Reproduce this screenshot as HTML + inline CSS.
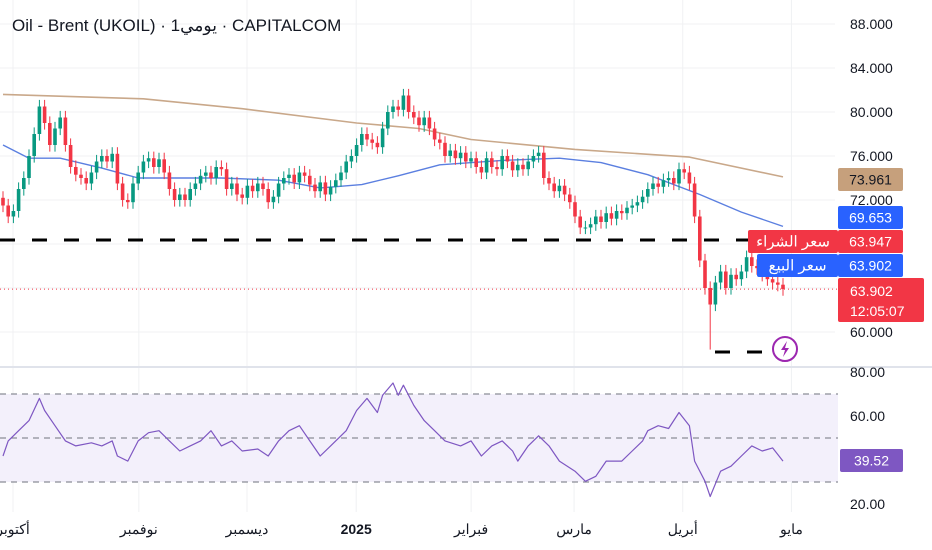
<!DOCTYPE html>
<html><head><meta charset="utf-8">
<style>
html,body{margin:0;padding:0;background:#fff;width:932px;height:550px;overflow:hidden}
svg{display:block;font-family:"Liberation Sans","Noto Sans CJK SC",sans-serif}
</style></head>
<body>
<svg id="chart" width="932" height="550"></svg>
<script>
// ===== data =====
const closes=[71.5,70.5,71,73,74,76,78,80.5,79,77,78.5,79.5,77,75,74.3,74,73.5,74.5,75.5,76,75.5,76.2,73.5,72,71.8,73.5,74.5,75.5,75.8,75,75.7,74.5,73,72,72.5,72,73,73.5,74.2,74.5,74,75,74.8,73,73.5,72.5,72.2,73.3,72.8,73.5,73,71.8,72.3,73.5,74,74.3,73.6,74.5,74.2,73.4,72.8,73.6,72.5,73.2,73.8,74.5,75.5,76,77,78,77.5,77.2,76.8,78.5,80,80.5,80.2,81.5,80,79.5,78.8,79.5,78.5,77.5,77.2,76,76.5,75.8,76.3,75.5,75.8,75,74.5,75.8,75,74.8,76,75.5,74.7,75.2,74.8,75.5,76,76.3,74,73.5,72.8,73.3,72.5,71.8,70.5,69.5,69.5,69.8,70.5,70,70.8,70.3,71,70.8,71.3,71.5,71.8,72.3,73,73.5,73.2,73.8,74,73.5,74.8,74.5,73.5,70.5,66.5,64,62.5,64.5,65.5,64,65.2,64.8,65.5,66.8,66,65.8,65.2,64.8,64.5,64.3,63.9];
const firstOpen=72.2;
const extremeLowDay=[136];
const extremeLowVal=[58.4];
const maSlowDay=[0,27,46,68,80,90,110,132,150];
const maSlowVal=[81.6,81.2,80.3,79,78.5,77.5,76.6,75.9,74.1];
const maFastDay=[0,5,11,19,26,34,42,53,61,69,76,84,96,107,115,124,134,142,150];
const maFastVal=[77,75.8,75.8,74.9,74,74,74,73.8,73.1,73.4,74.2,75.2,75.6,75.8,75.4,74.3,72.5,70.9,69.6];
const rsiDay=[0,1,3,5,7,8,10,12,14,17,19,21,22,24,26,28,30,32,34,36,38,40,42,44,46,49,51,53,55,57,59,61,63,66,68,70,72,73,75,76,77,79,81,83,85,88,90,92,94,96,98,99,101,103,105,107,110,112,114,116,119,121,123,124,126,128,130,132,133,135,136,138,140,142,144,146,148,150];
const rsiVal=[41.8,48.7,53.3,57.9,68,62.5,55.6,48.7,46.4,47.8,46.4,48.7,41.8,39.5,48.7,52.4,53.3,48.7,44.1,46.4,48.7,53.3,46.4,48.7,44.1,45,41.8,48.7,53.3,55.6,48.7,41.8,46.4,53.3,62.5,68,61.6,69.4,75,69.4,74,64.8,57.9,53.3,48.7,46.4,48.7,41.8,46.4,48.7,44.1,39.5,46.4,51,46.4,39.5,34.9,30.3,32.6,39.5,39.5,44.1,48.7,53.3,55.6,54.3,61.6,55.6,39.5,30.3,23.4,34.9,37.2,41.8,46.4,44.1,45.5,39.52];
const priceTicks=[88,84,80,76,72,60];
const rsiTicks=[80,60,20];
const monthLabels=["أكتوبر","نوفمبر","ديسمبر","2025","فبراير","مارس","أبريل","مايو"];
const monthDays=[2.5,26.7,47.5,68.5,90.6,110.4,131.3,152.2];

// ===== scales =====
const xDay=d=>3+d*5.2;
const yP=p=>24+(88-p)*11;
const yR=r=>372+(80-r)*2.2;
const NS="http://www.w3.org/2000/svg";
const svg=document.getElementById('chart');
function mk(tag,attrs,parent){const e=document.createElementNS(NS,tag);for(const k in attrs)e.setAttribute(k,attrs[k]);(parent||svg).appendChild(e);return e;}

// grid
const grid=mk('g',{});


monthDays.forEach(d=>{mk('line',{x1:xDay(d)-3,x2:xDay(d)-3,y1:0,y2:512,stroke:'#f0f1f3','stroke-width':1},grid);});
priceTicks.forEach(p=>{mk('line',{x1:0,x2:835,y1:yP(p),y2:yP(p),stroke:'#f0f1f3'},grid);});
[68,64].forEach(p=>{mk('line',{x1:0,x2:835,y1:yP(p),y2:yP(p),stroke:'#f0f1f3'},grid);});
mk('line',{x1:0,x2:932,y1:367,y2:367,stroke:'#e0e3eb','stroke-width':2},grid);

// title
const title=mk('text',{x:12,y:31,'font-size':17,fill:'#131722'});
title.textContent='Oil - Brent (UKOIL) · 1يومي · CAPITALCOM';



// MAs
function lineFrom(days,vals,ys,color,name,w){
  const d=days.map((dd,i)=>(i?'L':'M')+xDay(dd).toFixed(1)+','+ys(vals[i]).toFixed(1)).join(' ');
  const p=mk('path',{d:d,fill:'none',stroke:color,'stroke-width':w||1.5,'stroke-linejoin':'round'});
  
  
  return p;
}
lineFrom(maSlowDay,maSlowVal,yP,'#c9a88a','ma-slow-line',1.6);
lineFrom(maFastDay,maFastVal,yP,'#5b7fe0','ma-fast-line',1.4);

// levels
const lvl1=mk('line',{x1:0,x2:760,y1:240,y2:240,stroke:'#000','stroke-width':3,'stroke-dasharray':'15,17'});


const lvl2=mk('line',{x1:715,x2:800,y1:352,y2:352,stroke:'#000','stroke-width':3,'stroke-dasharray':'15,17'});


const cur=mk('line',{x1:0,x2:838,y1:yP(63.902),y2:yP(63.902),stroke:'#f23645','stroke-width':1,'stroke-dasharray':'1,3'});



// candles
const cg=mk('g',{});


closes.forEach((c,i)=>{
  const o=i?closes[i-1]:firstOpen;
  const up=c>=o;
  const col=up?'#089981':'#f23645';
  const x=xDay(i);
  let hi=Math.max(o,c)+0.6, lo=Math.min(o,c)-0.6;
  const k=extremeLowDay.indexOf(i); if(k>=0) lo=extremeLowVal[k];
  const g=mk('g',{},cg);
  
  
  mk('line',{x1:x,x2:x,y1:yP(hi),y2:yP(lo),stroke:col,'stroke-width':1},g);
  const t=yP(Math.max(o,c)),b=yP(Math.min(o,c));
  mk('rect',{x:x-1.8,y:t,width:3.6,height:Math.max(1,b-t),fill:col},g);
});

// lightning icon
const lg=mk('g',{});


mk('circle',{cx:785,cy:349,r:12,fill:'#fff',stroke:'#9c27b0','stroke-width':2},lg);
mk('path',{d:'M787,341 L781,350 L785,350 L783,357 L789,348 L785,348 Z',fill:'#9c27b0'},lg);

// price axis labels
priceTicks.forEach(p=>{
  const t=mk('text',{x:850,y:yP(p)+5,'font-size':14,fill:'#131722'});
  t.textContent=p.toFixed(3);
  
  
});
function tag(x,y,w,h,bg,fg,txt,name,fs){
  const g=mk('g',{});
  
  
  mk('rect',{x:x,y:y,width:w,height:h,rx:2,fill:bg},g);
  const t=mk('text',{x:x+w/2,y:y+h/2+5,'font-size':fs||14,fill:fg,'text-anchor':'middle'},g);
  t.textContent=txt;
  return g;
}
tag(838,168,65,23,'#c6a07c','#131722','73.961','ma-slow-value-tag');
tag(838,206,65,23,'#2962ff','#fff','69.653','ma-fast-value-tag');
tag(748,230,90,23,'#f23645','#fff','سعر الشراء','buy-price-label',15);
tag(838,230,65,23,'#f23645','#fff','63.947','buy-price-tag');
tag(757,254,81,23,'#2962ff','#fff','سعر البيع','sell-price-label',15);
tag(838,254,65,23,'#2962ff','#fff','63.902','sell-price-tag');
const lp=mk('g',{});


mk('rect',{x:838,y:278,width:86,height:44,rx:2,fill:'#f23645'},lp);
const lp1=mk('text',{x:850,y:296,'font-size':14,fill:'#fff'},lp);lp1.textContent='63.902';
const lp2=mk('text',{x:850,y:316,'font-size':14,fill:'#fff'},lp);lp2.textContent='12:05:07';

// RSI pane
const rg=mk('g',{});


mk('rect',{x:0,y:yR(70),width:838,height:yR(30)-yR(70),fill:'#f3f0fb'},rg);
[70,50,30].forEach(v=>mk('line',{x1:0,x2:838,y1:yR(v),y2:yR(v),stroke:'#8a8d96','stroke-width':1.2,'stroke-dasharray':'6,5'},rg));
lineFrom(rsiDay,rsiVal,yR,'#7e57c2','rsi-line',1.2);
rsiTicks.forEach(r=>{
  const t=mk('text',{x:850,y:yR(r)+5,'font-size':14,fill:'#131722'});
  t.textContent=r.toFixed(2);
  
  
});
tag(840,449,63,23,'#7e57c2','#fff',rsiVal[rsiVal.length-1].toFixed(2),'rsi-value-tag');

// x-axis labels
monthLabels.forEach((m,i)=>{
  const t=mk('text',{x:xDay(monthDays[i])-3,y:534,'font-size':14,fill:'#131722','text-anchor':'middle','font-weight':m==='2025'?'bold':'normal'});
  t.textContent=m;
  
  
});
</script>
</body></html>
